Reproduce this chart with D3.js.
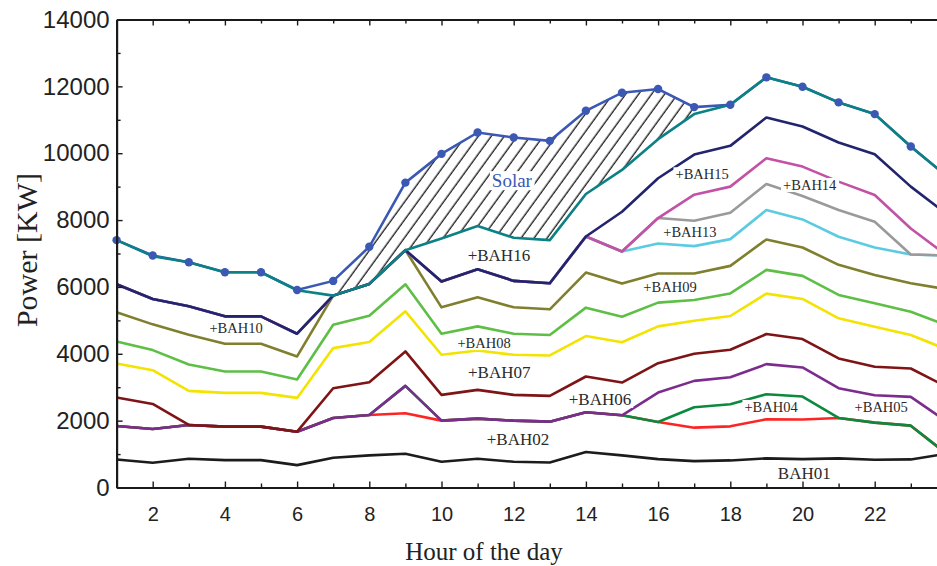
<!DOCTYPE html>
<html>
<head>
<meta charset="utf-8">
<script src="https://cdn.jsdelivr.net/npm/d3@7"></script>
<style>
  body { margin: 0; background: #fff; }
</style>
</head>
<body>
<div class="chart"></div>
<script>
// cumulative power (kW) per hour, each line = sum up to that feeder
const hours = d3.range(1, 25);

const bah01 = [840, 740, 860, 820, 820, 670, 890, 960, 1010, 770, 860, 770, 750, 1060, 960, 850, 790, 810, 870, 850, 870, 830, 840, 1010];
const bah02 = [1840, 1750, 1870, 1820, 1820, 1670, 2080, 2170, 2220, 2000, 2060, 2000, 1970, 2250, 2160, 1960, 1790, 1830, 2040, 2035, 2080, 1940, 1850, 1000];
const bah04 = [1840, 1750, 1870, 1820, 1820, 1670, 2080, 2170, 3040, 2000, 2060, 2000, 1970, 2250, 2160, 1960, 2400, 2490, 2790, 2720, 2080, 1940, 1850, 1000];
const bah05 = [1840, 1750, 1870, 1820, 1820, 1670, 2080, 2170, 3040, 2000, 2060, 2000, 1970, 2250, 2160, 2840, 3190, 3300, 3690, 3590, 2970, 2760, 2710, 1970];
const bah06 = [2690, 2500, 1870, 1820, 1820, 1670, 2970, 3150, 4070, 2770, 2920, 2770, 2740, 3320, 3140, 3720, 4000, 4120, 4590, 4440, 3860, 3610, 3560, 3010];
const bah07 = [3710, 3510, 2890, 2830, 2830, 2680, 4170, 4350, 5270, 3970, 4100, 3970, 3950, 4530, 4345, 4820, 4990, 5130, 5800, 5640, 5060, 4810, 4560, 4130];
const bah08 = [4370, 4110, 3680, 3470, 3470, 3230, 4870, 5140, 6080, 4600, 4820, 4600, 4560, 5380, 5110, 5530, 5610, 5805, 6510, 6330, 5760, 5510, 5255, 4850];
const bah09 = [5240, 4880, 4570, 4300, 4300, 3920, 5740, 6090, 7100, 5390, 5690, 5390, 5330, 6430, 6100, 6400, 6400, 6630, 7420, 7180, 6660, 6360, 6110, 5930];
const bah10 = [6080, 5640, 5420, 5120, 5120, 4600, 5740, 6090, 7100, 6160, 6530, 6180, 6110, 7510, 8250, 9250, 9960, 10220, 11070, 10800, 10320, 9970, 9000, 8180];
const bah13 = [6080, 5640, 5420, 5120, 5120, 4600, 5740, 6090, 7100, 6160, 6530, 6180, 6110, 7510, 7060, 7300, 7220, 7430, 8300, 8020, 7500, 7180, 6970, 6940];
const bah14 = [6080, 5640, 5420, 5120, 5120, 4600, 5740, 6090, 7100, 6160, 6530, 6180, 6110, 7510, 7060, 8060, 7980, 8220, 9080, 8720, 8300, 7950, 6970, 6940];
const bah15 = [6080, 5640, 5420, 5120, 5120, 4600, 5740, 6090, 7100, 6160, 6530, 6180, 6110, 7510, 7060, 8060, 8760, 9000, 9850, 9600, 9150, 8750, 7750, 6940];
const bah16 = [7400, 6920, 6740, 6440, 6440, 5900, 5740, 6090, 7100, 7450, 7820, 7470, 7400, 8780, 9500, 10420, 11170, 11450, 12270, 11990, 11520, 11170, 10200, 9310];
const solar = [7400, 6940, 6740, 6440, 6440, 5910, 6180, 7200, 9120, 9980, 10620, 10470, 10370, 11270, 11810, 11920, 11380, 11450, 12270, 11990, 11520, 11170, 10200, 9310];

const yTicks = d3.range(0, 14001, 2000);
const xTicks = d3.range(2, 24, 2);

// drawing order matters: later lines sit on top where they overlap
const series = [
    {name: "BAH01", values: bah01, color: "#1c1c1c"},
    {name: "BAH02", values: bah02, color: "#ff2424"},
    {name: "BAH04", values: bah04, color: "#0b8a3e"},
    {name: "BAH05", values: bah05, color: "#7b2c8c"},
    {name: "BAH06", values: bah06, color: "#7f1416"},
    {name: "BAH07", values: bah07, color: "#f2e400"},
    {name: "BAH08", values: bah08, color: "#5dbf45"},
    {name: "BAH09", values: bah09, color: "#7f7f2e"},
    {name: "BAH13", values: bah13, color: "#5ccbe2"},
    {name: "BAH14", values: bah14, color: "#9a9a9a"},
    {name: "BAH15", values: bah15, color: "#c152a6"},
    {name: "BAH10", values: bah10, color: "#22246e"}
];

const labels = [
    {text: "BAH01", h: 20.05, v: 250, big: true},
    {text: "+BAH02", h: 12.12, v: 1270, big: true},
    {text: "+BAH04", h: 19.13, v: 2260, big: false},
    {text: "+BAH05", h: 22.18, v: 2260, big: false},
    {text: "+BAH06", h: 14.39, v: 2470, big: true},
    {text: "+BAH07", h: 11.6, v: 3270, big: true},
    {text: "+BAH08", h: 11.18, v: 4170, big: false},
    {text: "+BAH09", h: 16.33, v: 5850, big: false},
    {text: "+BAH10", h: 4.31, v: 4620, big: false},
    {text: "+BAH13", h: 16.88, v: 7490, big: false},
    {text: "+BAH14", h: 20.2, v: 8900, big: false},
    {text: "+BAH15", h: 17.22, v: 9220, big: false},
    {text: "+BAH16", h: 11.59, v: 6770, big: true}
];

const W = 937, H = 566;
const solarColor = "#3a58b4", tealColor = "#0b8185";

const x = d3.scaleLinear().domain([1, 24]).range([116.6, 946.9]);
const y = d3.scaleLinear().domain([0, 14000]).range([487.5, 19.5]);

const svg = d3.select(".chart")
    .append("svg")
    .attr("width", W)
    .attr("height", H);

const defs = svg.append("defs");
const hatch = defs.append("pattern")
    .attr("id", "hatch")
    .attr("patternUnits", "userSpaceOnUse")
    .attr("width", 10.5)
    .attr("height", 10.5)
    .attr("patternTransform", "rotate(36)");
hatch.append("line")
    .attr("x1", 5).attr("y1", -1)
    .attr("x2", 5).attr("y2", 11.5)
    .attr("stroke", "#000")
    .attr("stroke-width", 1.2);

const line = (vals) => d3.line()
    .x((d, i) => x(hours[i]))
    .y(d => y(d))(vals);

// hatched solar band between BAH16 line and solar line (hours 7-17)
const band = d3.range(6, 17);
svg.append("path")
    .attr("d", d3.area()
        .x(i => x(hours[i]))
        .y0(i => y(bah16[i]))
        .y1(i => y(solar[i]))(band))
    .attr("fill", "url(#hatch)");

svg.append("g")
    .selectAll("path")
    .data(series)
    .join("path")
    .attr("d", d => line(d.values))
    .attr("fill", "none")
    .attr("stroke", d => d.color)
    .attr("stroke-width", 2.6)
    .attr("stroke-linejoin", "round");

svg.append("path")
    .attr("d", line(solar))
    .attr("fill", "none")
    .attr("stroke", solarColor)
    .attr("stroke-width", 2.6);

svg.append("path")
    .attr("d", line(bah16))
    .attr("fill", "none")
    .attr("stroke", tealColor)
    .attr("stroke-width", 2.6)
    .attr("stroke-linejoin", "round");

svg.append("g")
    .selectAll("circle")
    .data(solar)
    .join("circle")
    .attr("cx", (d, i) => x(hours[i]))
    .attr("cy", d => y(d))
    .attr("r", 4.2)
    .attr("fill", solarColor);

// text labels with white boxes that break the lines behind them
function addLabel(t, h, v, size, color) {
    const g = svg.append("g");
    const txt = g.append("text")
        .attr("x", x(h))
        .attr("y", y(v))
        .attr("text-anchor", "middle")
        .attr("font-family", "'Liberation Serif', 'Times New Roman', serif")
        .attr("font-size", size + "px")
        .attr("fill", color)
        .text(t);
    const b = txt.node().getBBox();
    g.insert("rect", "text")
        .attr("x", b.x - 2)
        .attr("y", b.y + 1)
        .attr("width", b.width + 4)
        .attr("height", b.height - 2)
        .attr("fill", "#fff");
}

labels.forEach(d => addLabel(d.text, d.h, d.v, d.big ? 17 : 14.5, "#2a2a2a"));
addLabel("Solar", 11.95, 8985, 19, solarColor);

// axes, ticks pointing inward
const axisFont = "'Liberation Sans', Arial, sans-serif";

const xAxis = svg.append("g")
    .attr("transform", `translate(0,${y(0)})`)
    .call(d3.axisBottom(x).tickValues(xTicks).tickSize(-6).tickSizeOuter(0).tickPadding(19));
xAxis.append("g")
    .call(d3.axisBottom(x).tickValues(d3.range(3, 24, 2)).tickSize(-4).tickSizeOuter(0).tickFormat(""))
    .select(".domain").remove();

const topAxis = svg.append("g")
    .attr("transform", `translate(0,${y(14000)})`)
    .call(d3.axisTop(x).tickValues(d3.range(2, 24)).tickSize(-5).tickSizeOuter(0).tickFormat(""));
topAxis.selectAll(".tick line")
    .attr("y2", d => d % 2 === 0 ? 6 : 4);

const yAxis = svg.append("g")
    .attr("transform", `translate(${x(1)},0)`)
    .call(d3.axisLeft(y).tickValues(yTicks).tickSize(-6).tickSizeOuter(0).tickPadding(7).tickFormat(d3.format("d")));
yAxis.append("g")
    .call(d3.axisLeft(y).tickValues(d3.range(1000, 14000, 2000)).tickSize(-4).tickSizeOuter(0).tickFormat(""))
    .select(".domain").remove();

svg.selectAll(".domain").attr("stroke", "#1a1a1a").attr("stroke-width", 2.2);
svg.selectAll(".tick line").attr("stroke", "#1a1a1a").attr("stroke-width", 1.4);
xAxis.selectAll("text").attr("font-family", axisFont).attr("font-size", "20px").attr("fill", "#222");
yAxis.selectAll("text").attr("font-family", axisFont).attr("font-size", "24px").attr("fill", "#222");

svg.append("text")
    .attr("x", 484)
    .attr("y", 560)
    .attr("text-anchor", "middle")
    .attr("font-family", "'Liberation Serif', 'Times New Roman', serif")
    .attr("font-size", "25px")
    .attr("fill", "#222")
    .text("Hour of the day");

svg.append("text")
    .attr("transform", "translate(37,250) rotate(-90)")
    .attr("text-anchor", "middle")
    .attr("font-family", "'Liberation Serif', 'Times New Roman', serif")
    .attr("font-size", "30px")
    .attr("fill", "#222")
    .text("Power [KW]");
</script>
</body>
</html>
